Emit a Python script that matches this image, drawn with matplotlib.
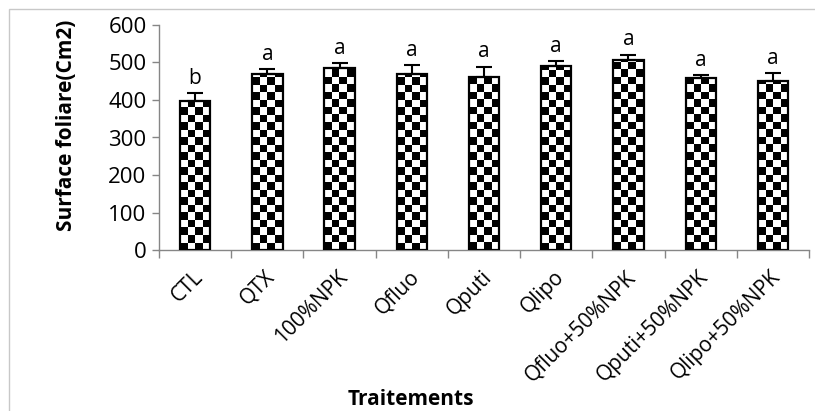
import numpy as np
import matplotlib
matplotlib.use("Agg")
import matplotlib.pyplot as plt
from matplotlib.patches import Rectangle
from matplotlib.transforms import ScaledTranslation


treatments = ['CTL', 'QTX', '100%NPK', 'Qfluo', 'Qputi', 'Qlipo',
              'Qfluo+50%NPK', 'Qputi+50%NPK', 'Qlipo+50%NPK']
leaf_area = [397, 469, 486, 469, 462, 490, 507, 459, 451]
errors = [22, 14, 13, 24, 27, 13, 14, 8, 20]
letters = ['b', 'a', 'a', 'a', 'a', 'a', 'a', 'a', 'a']

GREY = '#868686'
CELL_PX = 7.5


def checker_fill(ax, bar):
    """Fill a bar with a black/white checkerboard clipped to its outline."""
    x0, y0 = bar.get_x(), bar.get_y()
    w, h = bar.get_width(), bar.get_height()
    p0 = ax.transData.transform((x0, y0))
    p1 = ax.transData.transform((x0 + w, y0 + h))
    ncol = int(np.ceil((p1[0] - p0[0]) / CELL_PX))
    nrow = int(np.ceil((p1[1] - p0[1]) / CELL_PX))
    board = (np.add.outer(np.arange(nrow), np.arange(ncol)) % 2).astype(float)
    dx = w / (p1[0] - p0[0]) * CELL_PX
    dy = h / (p1[1] - p0[1]) * CELL_PX
    im = ax.imshow(board, cmap='gray', vmin=0, vmax=1, origin='lower',
                   extent=(x0, x0 + ncol * dx, y0, y0 + nrow * dy),
                   interpolation='nearest', aspect='auto', zorder=2)
    im.set_clip_path(bar)


def main():
    plt.rcParams['font.family'] = ['Open Sans', 'DejaVu Sans']

    fig = plt.figure(figsize=(8.15, 4.11), dpi=100)
    ax = fig.add_axes([159 / 815, 1 - 250 / 411, 650 / 815, 225 / 411])

    x = np.arange(len(treatments))
    ax.set_xlim(-0.5, len(treatments) - 0.5)
    ax.set_ylim(0, 600)

    bars = ax.bar(x, leaf_area, width=0.42, facecolor='none',
                  edgecolor='black', linewidth=1.6, zorder=3)
    ax.errorbar(x, leaf_area, yerr=[[0] * len(errors), errors], fmt='none',
                ecolor='black', elinewidth=1.5, capsize=6, capthick=1.5,
                zorder=4)
    for bar in bars:
        checker_fill(ax, bar)

    for xi, val, err, lab in zip(x, leaf_area, errors, letters):
        ax.annotate(lab, (xi, val + err), xytext=(0, 3),
                    textcoords='offset points', ha='center', va='bottom',
                    fontsize=15)

    ax.set_yticks(range(0, 601, 100))
    ax.tick_params(axis='y', labelsize=16, length=5, color=GREY, width=1,
                   pad=4)
    ax.set_xticks(x)
    ax.set_xticklabels(treatments, rotation=45, ha='right', va='top',
                       rotation_mode='anchor', fontsize=15)
    ax.tick_params(axis='x', length=0, pad=12)
    shift = ScaledTranslation(-3 / 100, 0, fig.dpi_scale_trans)
    for lab in ax.get_xticklabels():
        lab.set_transform(lab.get_transform() + shift)
    ax.set_xticks(np.arange(-0.5, len(treatments)), minor=True)
    ax.tick_params(axis='x', which='minor', length=6, color=GREY, width=1)

    for side in ['top', 'right']:
        ax.spines[side].set_visible(False)
    for side in ['left', 'bottom']:
        ax.spines[side].set_color(GREY)
        ax.spines[side].set_linewidth(1)

    fig.text(66 / 815, 1 - 125 / 411, 'Surface foliare(Cm2)', rotation=90,
             ha='center', va='center', fontsize=15, fontweight='bold')
    fig.text(411 / 815, 1 - 399 / 411, 'Traitements', ha='center',
             va='center', fontsize=15, fontweight='bold')

    fig.patches.append(Rectangle((9 / 815, -0.1), 1.0, 1 - 9 / 411 + 0.1,
                                 transform=fig.transFigure, fill=False,
                                 edgecolor='#c8c8c8', linewidth=1))

    fig.savefig('out.png', dpi=100)


if __name__ == '__main__':
    main()
